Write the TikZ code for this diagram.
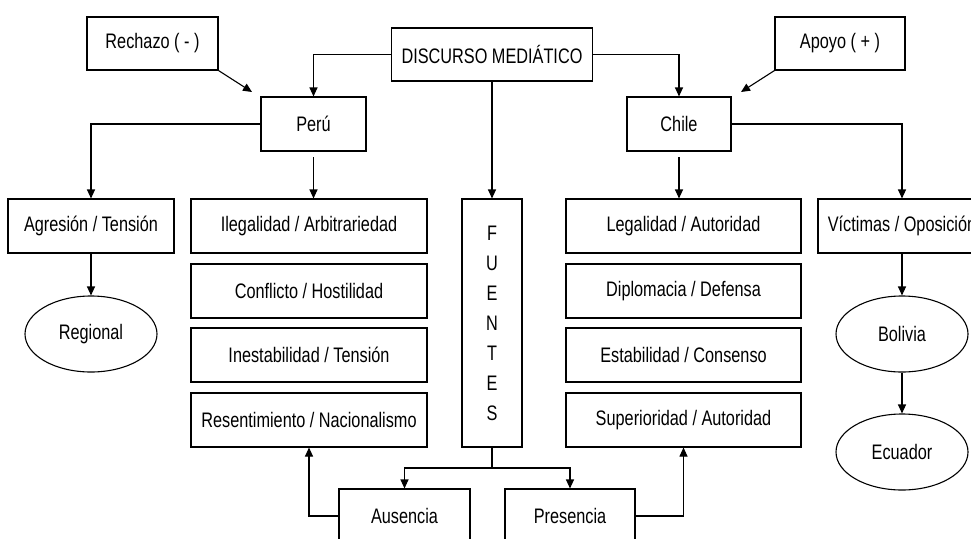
\documentclass[tikz,border=0pt]{standalone}
\usepackage{fontspec}
\setmainfont[FakeStretch=0.775]{Liberation Sans}
\usetikzlibrary{arrows.meta,shapes.geometric,calc}
\begin{document}
\begin{tikzpicture}[x=1pt,y=-1pt,
  every node/.style={font=\fontsize{21}{30}\selectfont},
  box/.style={draw,line width=1.1pt,inner sep=0pt,minimum height=54pt},
  oval/.style={draw,ellipse,line width=1.1pt,inner sep=0pt,minimum width=132pt,minimum height=76pt},
  arr/.style={line width=1.1pt,-{Triangle[length=9pt,width=8pt]}},
  ln/.style={line width=1.1pt}]
\useasboundingbox (0,0) rectangle (971,538);
\fill[white] (0,0) rectangle (971,538);
\clip (0,0) rectangle (971,538);
% top
\node[box,minimum width=201pt,minimum height=53pt] (disc) at (492,54.5) {DISCURSO MEDIÁTICO};
\node[box,minimum width=131pt,minimum height=53pt] (rech) at (152.5,43.5) {Rechazo ( - )};
\node[box,minimum width=130pt,minimum height=53pt] (apoyo) at (840,43.5) {Apoyo ( + )};
\node[box,minimum width=105pt] (peru) at (313.5,124) {Perú};
\node[box,minimum width=104pt] (chile) at (679,124) {Chile};
% row nodes
\node[box,minimum width=166pt] (agr) at (91,226) {Agresión / Tensión};
\node[box,minimum width=236pt] (p1) at (309,226) {Ilegalidad / Arbitrariedad};
\node[box,minimum width=236pt] (p2) at (309,291) {Conflicto / Hostilidad};
\node[box,minimum width=236pt] (p3) at (309,355) {Inestabilidad / Tensión};
\node[box,minimum width=236pt] (p4) at (309,420) {Resentimiento / Nacionalismo};
\node[box,minimum width=60pt,minimum height=248pt,align=center] (fuentes) at (492,323) {F\\U\\E\\N\\T\\E\\S};
\node[box,minimum width=235pt] (c1) at (683.5,226) {Legalidad / Autoridad};
\node[box,minimum width=235pt] (c2) at (683.5,291) {Diplomacia / Defensa};
\node[box,minimum width=235pt] (c3) at (683.5,355) {Estabilidad / Consenso};
\node[box,minimum width=235pt] (c4) at (683.5,420) {Superioridad / Autoridad};
\node[box,minimum width=168pt] (vic) at (902,226) {Víctimas / Oposición};
\node[oval] (regional) at (91,334) {Regional};
\node[oval] (bolivia) at (902,334) {Bolivia};
\node[oval] (ecuador) at (902,452) {Ecuador};
\node[box,minimum width=131pt] (aus) at (404.5,516) {Ausencia};
\node[box,minimum width=130pt] (pres) at (570,516) {Presencia};
% coordinates
\coordinate (rtip) at (252,92);
\coordinate (atip) at (741,92);
\coordinate (fj) at (492,468);
\coordinate (pb) at (313.5,157);
\coordinate (cb) at (679,157);
% connectors
\draw[arr] (disc.west) -| (peru.north);
\draw[arr] (disc.east) -| (chile.north);
\draw[arr] (disc.south) -- (fuentes.north);
\draw[arr] (rech.south east) -- (rtip);
\draw[arr] (apoyo.south west) -- (atip);
\draw[arr] (peru.west) -| (agr.north);
\draw[arr] (pb) -- (pb |- p1.north);
\draw[arr] (chile.east) -| (vic.north);
\draw[arr] (cb) -- (cb |- c1.north);
\draw[arr] (agr.south) -- (regional.north);
\draw[arr] (vic.south) -- (bolivia.north);
\draw[arr] (bolivia.south) -- (ecuador.north);
\draw[ln] (fuentes.south) -- (fj);
\draw[arr] (fj) -| (aus.north);
\draw[arr] (fj) -| (pres.north);
\draw[arr] (aus.west) -| (p4.south);
\draw[arr] (pres.east) -| (c4.south);
\end{tikzpicture}
\end{document}
